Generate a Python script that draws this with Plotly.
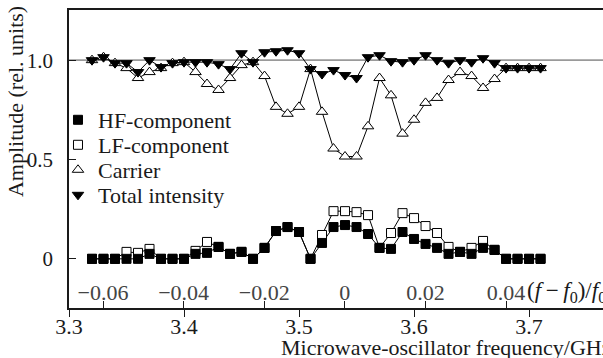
import plotly.graph_objects as go

# ---------------- data ----------------
freq_ghz = [3.32, 3.33, 3.34, 3.35, 3.36, 3.37, 3.38, 3.39, 3.40, 3.41,
            3.42, 3.43, 3.44, 3.45, 3.46, 3.47, 3.48, 3.49, 3.50, 3.51,
            3.52, 3.53, 3.54, 3.55, 3.56, 3.57, 3.58, 3.59, 3.60, 3.61,
            3.62, 3.63, 3.64, 3.65, 3.66, 3.67, 3.68, 3.69, 3.70, 3.71]

hf_component = [0, 0, 0, 0, 0, 0.025, 0, 0, 0, 0.025,
                0.03, 0.06, 0.025, 0.035, 0, 0.055, 0.14, 0.16, 0.135, 0,
                0.08, 0.16, 0.17, 0.16, 0.125, 0.055, 0.05, 0.135, 0.10, 0.075,
                0.055, 0.025, 0.035, 0.025, 0.055, 0.045, 0, 0, 0, 0]

lf_component = [0, 0, 0, 0.035, 0.03, 0.05, 0, 0, 0, 0.04,
                0.085, 0.06, 0.025, 0.035, 0, 0.055, 0.14, 0.16, 0.135, 0,
                0.12, 0.24, 0.24, 0.235, 0.22, 0.055, 0.13, 0.23, 0.205, 0.165,
                0.13, 0.06, 0.035, 0.055, 0.09, 0.045, 0, 0, 0, 0]

carrier = [1.0, 1.015, 0.985, 0.96, 0.91, 0.94, 0.96, 0.985, 0.99, 0.94,
           0.88, 0.85, 0.91, 0.975, 0.99, 0.92, 0.765, 0.73, 0.765, 0.955,
           0.74, 0.555, 0.515, 0.515, 0.667, 0.91, 0.823, 0.63, 0.70, 0.785,
           0.81, 0.90, 0.94, 0.92, 0.86, 0.905, 0.96, 0.96, 0.96, 0.96]

total_intensity = [1.0, 1.015, 0.985, 0.985, 0.94, 1.0, 0.965, 0.985, 0.99, 0.99,
                   0.99, 0.98, 0.955, 1.035, 0.99, 1.04, 1.045, 1.05, 1.035, 0.955,
                   0.93, 0.95, 0.925, 0.91, 1.015, 1.025, 0.995, 0.99, 1.0, 1.025,
                   1.0, 0.985, 1.0, 0.99, 1.01, 0.985, 0.96, 0.96, 0.96, 0.96]

freq_ticks = [3.3, 3.4, 3.5, 3.6, 3.7]
freq_ticktext = ["3.3", "3.4", "3.5", "3.6", "3.7"]
rel_ticks = [-0.06, -0.04, -0.02, 0, 0.02, 0.04]
rel_ticktext = ["\u22120.06", "\u22120.04", "\u22120.02", "0", "0.02", "0.04"]
amp_ticks = [0, 0.5, 1.0]
amp_ticktext = ["0", "0.5", "1.0"]

freq_range = [3.3, 3.7643]
rel_range = [-0.06844, 0.06407]
amp_range = [-0.2475, 1.2525]

FONT = "Liberation Serif, Times New Roman, serif"
FS = 22
INK = "#1a1a1a"

# ---------------- figure ----------------
fig = go.Figure()

# (name, values, symbol, fill, legend id, legend row centre in paper y)
series = [
    ("LF-component", lf_component, "square", "white", "legend2", 0.5470),
    ("HF-component", hf_component, "square", "black", "legend", 0.6309),
    ("Carrier", carrier, "triangle-up", "white", "legend3", 0.4631),
    ("Total intensity", total_intensity, "triangle-down", "black", "legend4", 0.3792),
]

# connecting lines
for name, vals, sym, fill, leg, ly in series:
    fig.add_trace(go.Scatter(
        x=freq_ghz, y=vals, mode="lines",
        line=dict(color="black", width=1),
        showlegend=False, hoverinfo="skip"))

# markers
for name, vals, sym, fill, leg, ly in series:
    fig.add_trace(go.Scatter(
        x=freq_ghz, y=vals, mode="markers", name=name, legend=leg,
        marker=dict(symbol=sym, size=10 if "triangle" in sym else 9,
                    color=fill, line=dict(color="black", width=1))))

# reference line at 1.0
fig.add_shape(type="line", xref="paper", x0=0, x1=1, yref="y", y0=1, y1=1,
              line=dict(color="#9a9a9a", width=1.6), layer="below")

legend_common = dict(x=-0.0206, xanchor="left", yanchor="middle",
                     bgcolor="rgba(0,0,0,0)", borderwidth=0,
                     font=dict(family=FONT, size=FS, color=INK), itemwidth=30)
legends = {}
for name, vals, sym, fill, leg, ly in series:
    legends[leg] = dict(legend_common, y=ly)

fig.update_layout(
    width=603, height=358,
    margin=dict(l=69, r=0, t=10, b=50),
    paper_bgcolor="white", plot_bgcolor="white",
    font=dict(family=FONT, size=FS, color=INK),
    showlegend=True,
    xaxis=dict(range=freq_range, tickvals=freq_ticks, ticktext=freq_ticktext,
               ticks="outside", ticklen=7, tickwidth=1.2, tickcolor=INK,
               showline=True, linecolor=INK, linewidth=1.5, mirror=True,
               showgrid=False, zeroline=False, ticklabelstandoff=-9),
    xaxis2=dict(range=rel_range, tickvals=rel_ticks, ticktext=rel_ticktext,
                overlaying="x", anchor="y", side="bottom",
                ticks="inside", ticklen=7, tickwidth=1.2, tickcolor=INK,
                ticklabelposition="inside", showline=False,
                showgrid=False, zeroline=False, ticklabelstandoff=-2),
    # labels of the amplitude axis (transparent outside ticks set their offset)
    yaxis=dict(range=amp_range, tickvals=amp_ticks, ticktext=amp_ticktext,
               ticks="outside", ticklen=10, tickcolor="rgba(0,0,0,0)",
               tickfont=dict(family=FONT, size=21, color=INK),
               showline=True, linecolor=INK, linewidth=1.5,
               showgrid=False, zeroline=False),
    # visible inward tick marks of the amplitude axis
    yaxis2=dict(range=amp_range, tickvals=amp_ticks, overlaying="y",
                anchor="x", side="left", ticks="inside", ticklen=7,
                tickwidth=1.2, tickcolor=INK, showticklabels=False,
                showline=False, showgrid=False, zeroline=False),
    **legends,
)

# invisible anchor traces so that the overlay axes are drawn
fig.add_trace(go.Scatter(x=[rel_range[0]], y=[None], xaxis="x2", yaxis="y",
                         mode="markers", showlegend=False, hoverinfo="skip"))
fig.add_trace(go.Scatter(x=[None], y=[amp_range[0]], xaxis="x", yaxis="y2",
                         mode="markers", showlegend=False, hoverinfo="skip"))

fig.add_annotation(text="Amplitude (rel. units)", textangle=-90,
                   xref="paper", yref="paper", x=-0.1011, y=0.691,
                   xanchor="center", yanchor="middle", showarrow=False,
                   font=dict(family=FONT, size=FS))
fig.add_annotation(text="Microwave-oscillator frequency/GHz",
                   xref="paper", yref="paper", x=0.393, y=-0.131,
                   xanchor="left", yanchor="middle", showarrow=False,
                   font=dict(family=FONT, size=FS))
fig.add_annotation(text="(<i>f</i>\u2009\u2212\u2009<i>f</i><sub>0</sub>)/<i>f</i><sub>0</sub>",
                   xref="paper", yref="paper", x=0.853, y=0.0537,
                   xanchor="left", yanchor="middle", showarrow=False,
                   font=dict(family=FONT, size=23))

fig.write_html("out.html", config={"displayModeBar": False},
               post_script="document.body.style.margin='0';")
